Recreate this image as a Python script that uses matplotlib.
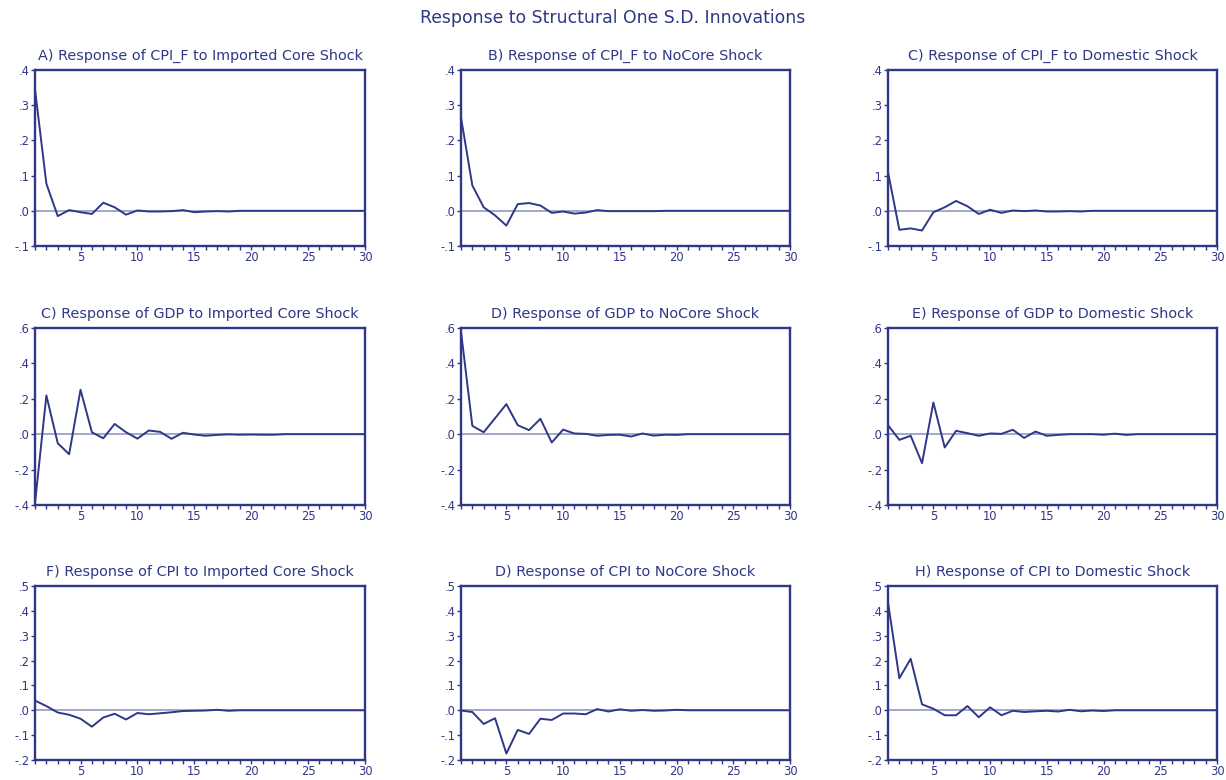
import matplotlib
matplotlib.use("Agg")
import matplotlib.pyplot as plt
from matplotlib.ticker import MultipleLocator, FuncFormatter

plt.rcParams['font.family'] = ['DejaVu Sans']

periods = list(range(1, 31))

def pad(vals):
    return vals + [0.0] * (30 - len(vals))

# row 1: CPI_F
cpif_imported = pad([0.345, 0.077, -0.015, 0.002, -0.004, -0.009, 0.023, 0.010, -0.011, 0.001,
                     -0.002, -0.002, -0.001, 0.002, -0.004, -0.002, -0.001, -0.002])
cpif_nocore = pad([0.265, 0.072, 0.010, -0.013, -0.042, 0.019, 0.022, 0.015, -0.006, -0.002,
                   -0.008, -0.005, 0.002, -0.001, -0.001, -0.001, -0.001, -0.001])
cpif_domestic = pad([0.110, -0.054, -0.050, -0.056, -0.004, 0.010, 0.028, 0.013, -0.009, 0.003,
                     -0.006, 0.001, -0.001, 0.001, -0.002, -0.002, -0.001, -0.002])
# row 2: GDP
gdp_imported = pad([-0.390, 0.219, -0.051, -0.113, 0.251, 0.011, -0.023, 0.058, 0.011, -0.025,
                    0.021, 0.013, -0.026, 0.008, -0.002, -0.009, -0.004, -0.001, -0.003, -0.002,
                    -0.003, -0.003])
gdp_nocore = pad([0.580, 0.047, 0.011, 0.090, 0.170, 0.051, 0.023, 0.087, -0.047, 0.026,
                  0.004, 0.002, -0.009, -0.004, -0.003, -0.013, 0.004, -0.008, -0.003, -0.004])
gdp_domestic = pad([0.051, -0.032, -0.009, -0.164, 0.179, -0.075, 0.019, 0.006, -0.009, 0.004,
                    0.002, 0.025, -0.021, 0.015, -0.009, -0.004, 0.0, 0.0, 0.0, -0.003,
                    0.003, -0.004])
# row 3: CPI
cpi_imported = pad([0.039, 0.017, -0.009, -0.018, -0.034, -0.066, -0.029, -0.014, -0.037, -0.011,
                    -0.016, -0.012, -0.008, -0.003, -0.002, -0.001, 0.002, -0.002])
cpi_nocore = pad([-0.001, -0.007, -0.055, -0.032, -0.174, -0.079, -0.095, -0.034, -0.039, -0.013,
                  -0.013, -0.016, 0.005, -0.005, 0.004, -0.002, 0.001, -0.002, -0.001, 0.002])
cpi_domestic = pad([0.434, 0.129, 0.207, 0.024, 0.006, -0.020, -0.020, 0.017, -0.028, 0.012,
                    -0.020, -0.002, -0.007, -0.004, -0.002, -0.005, 0.002, -0.004, -0.001, -0.003])

series = [cpif_imported, cpif_nocore, cpif_domestic,
          gdp_imported, gdp_nocore, gdp_domestic,
          cpi_imported, cpi_nocore, cpi_domestic]

titles = ["A) Response of CPI_F to Imported Core Shock",
          "B) Response of CPI_F to NoCore Shock",
          "C) Response of CPI_F to Domestic Shock",
          "C) Response of GDP to Imported Core Shock",
          "D) Response of GDP to NoCore Shock",
          "E) Response of GDP to Domestic Shock",
          "F) Response of CPI to Imported Core Shock",
          "D) Response of CPI to NoCore Shock",
          "H) Response of CPI to Domestic Shock"]

row_ylims = [(-0.1, 0.4), (-0.4, 0.6), (-0.2, 0.5)]
row_ysteps = [0.1, 0.2, 0.1]

navy = '#2f3787'
zero_col = '#8c90c0'

W, H = 1226, 780
fig = plt.figure(figsize=(W / 100, H / 100), dpi=100)

cols = [(35, 365), (461, 790), (888, 1217)]
rows = [(70, 246), (328, 505), (586, 760)]

def fmt(v, pos):
    s = "%.1f" % v
    if s == "-0.0":
        s = "0.0"
    return s.replace("0.", ".", 1)

for i in range(9):
    r, c = divmod(i, 3)
    x0, x1 = cols[c]
    y0, y1 = rows[r]
    ax = fig.add_axes([x0 / W, 1 - y1 / H, (x1 - x0) / W, (y1 - y0) / H])
    ax.axhline(0, color=zero_col, lw=1.1, zorder=1)
    ax.plot(periods, series[i], color=navy, lw=1.4, zorder=2)
    ax.set_xlim(1, 30)
    ax.set_ylim(*row_ylims[r])
    ax.xaxis.set_major_locator(MultipleLocator(5))
    ax.xaxis.set_minor_locator(MultipleLocator(1))
    ax.yaxis.set_major_locator(MultipleLocator(row_ysteps[r]))
    ax.yaxis.set_major_formatter(FuncFormatter(fmt))
    ax.tick_params(axis='both', which='both', direction='out', colors=navy, labelcolor=navy,
                   labelsize=8.3, length=3, width=1, pad=1)
    ax.tick_params(axis='x', which='major', pad=0.5)
    for sp in ax.spines.values():
        sp.set_color(navy)
        sp.set_linewidth(1.7)
    ax.set_title(titles[i], fontsize=10.4, color=navy, pad=7)

fig.text(0.5, 1 - 18 / H, "Response to Structural One S.D. Innovations",
         ha='center', va='center', fontsize=12.4, color=navy)

fig.savefig("out.png", dpi=100)
